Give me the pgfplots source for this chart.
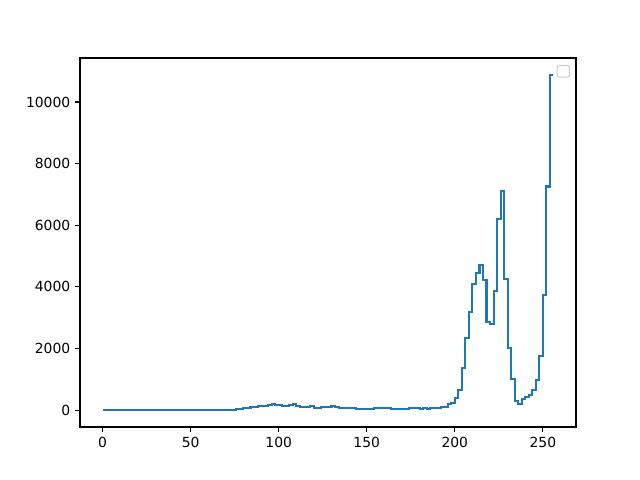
\documentclass[border=0pt]{standalone}
\usepackage{pgfplots}
\pgfplotsset{compat=1.18}
\usepackage{fontspec}
\setmainfont{DejaVu Sans}
\definecolor{mplblue}{HTML}{1F77B4}
\begin{document}
\begin{tikzpicture}
\begin{axis}[
 scale only axis, width=357.12pt, height=265.68pt,
 xmin=-12.8, xmax=268.8, ymin=-544, ymax=11428,
 xtick={0,50,100,150,200,250}, ytick={0,2000,4000,6000,8000,10000},
 scaled ticks=false,
 tick align=outside, tick pos=left, major tick length=3.5pt,
 axis line style={line width=0.8pt},
 every tick/.style={black, line width=0.8pt},
 /pgf/number format/assume math mode=true,
 /pgf/number format/fixed,
 /pgf/number format/1000 sep={},
 tick label style={font=\fontsize{10}{12}\selectfont},
]
\addplot[const plot, mplblue, line width=1.5pt] coordinates {
(0,10)(2,10)(4,10)(6,10)(8,10)(10,10)(12,10)(14,10)(16,10)(18,10)
(20,10)(22,10)(24,10)(26,10)(28,10)(30,10)(32,10)(34,10)(36,10)(38,10)
(40,10)(42,10)(44,10)(46,10)(48,10)(50,10)(52,10)(54,10)(56,10)(58,10)
(60,10)(62,10)(64,10)(66,10)(68,10)(70,10)(72,10)(74,10)
(76,52)(78,52)(80,74)(82,74)(84,107)(86,107)(88,139)(90,139)(92,139)
(94,172)(96,204)(98,172)(100,172)(102,150)(104,150)(106,172)(108,204)
(110,150)(112,117)(114,117)(116,117)(118,150)(120,85)(122,85)
(124,107)(126,107)(128,107)(130,129)(132,107)
(134,85)(136,85)(138,85)(140,85)(142,85)
(144,42)(146,42)(148,42)(150,42)(152,42)
(154,85)(156,85)(158,85)(160,85)(162,85)
(164,42)(166,42)(168,42)(170,42)(172,42)
(174,85)(176,85)(178,85)(180,42)(182,85)(184,42)(186,85)(188,85)(190,85)
(192,107)(194,107)(196,194)(198,246)
(200,398)(202,667)(204,1379)(206,2340)(208,3191)(210,4097)(212,4443)
(214,4702)(216,4227)(218,2848)(220,2803)(222,3871)(224,6201)(226,7107)
(228,4272)(230,2016)(232,1023)(234,311)(236,214)(238,356)(240,440)
(242,505)(244,667)(246,990)(248,1767)(250,3741)(252,7259)(254,10884)
(256,10884)
};
\end{axis}
\node[draw=black!20, fill=white, line width=0.8pt, rounded corners=1.5pt,
 minimum width=8.85pt, minimum height=8.4pt, inner sep=0pt, anchor=north east]
 at ([xshift=-4.3pt,yshift=-5pt]current axis.north east) {};
\path[use as bounding box] (current axis.south west) ++(-57.6pt,-38.16pt) rectangle ++(460.8pt,345.6pt);
\end{tikzpicture}
\end{document}
